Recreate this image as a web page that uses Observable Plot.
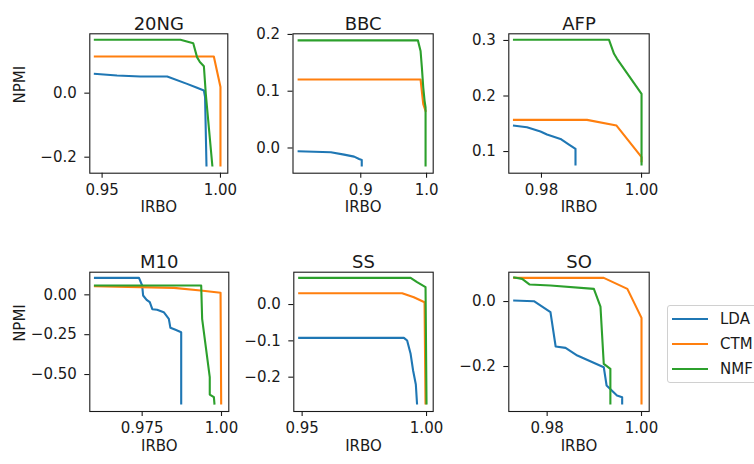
<!DOCTYPE html>
<html>
<head>
<meta charset="utf-8">
<script src="https://cdn.jsdelivr.net/npm/d3@7"></script>
<script src="https://cdn.jsdelivr.net/npm/@observablehq/plot@0.6"></script>
<style>
  html, body { margin: 0; padding: 0; background: white; overflow: hidden; }
  #chart { position: relative; width: 754px; height: 464px; font-family: "DejaVu Sans", sans-serif; }
  #chart svg.panel { position: absolute; left: 0; top: 0; }
  .legend { position: absolute; left: 667px; top: 305px; width: 95px; height: 78px;
            border: 1px solid #d0d0d0; border-radius: 3px; background: white; box-sizing: border-box; }
  .legend .item { position: absolute; left: 4px; height: 20px; display: flex; align-items: center;
                  font-size: 15px; color: #1a1a1a; }
  .legend .item span { margin-left: 12px; }
</style>
</head>
<body>
<div id="chart"></div>
<script>
// Topic models compared on each corpus
const models = ["LDA", "CTM", "NMF"];
const modelColors = ["#1f77b4", "#ff7f0e", "#2ca02c"];

// [IRBO, NPMI] trade-off curves per corpus and model
const ng20LDA = [[0.9465,0.0604],[0.9563,0.055],[0.9662,0.052],[0.9775,0.052],[0.9859,0.029],[0.9901,0.0167],[0.9930,0.0083],[0.9935,-0.0125],[0.9941,-0.229]];
const ng20CTM = [[0.9465,0.1146],[0.9972,0.1146],[1.0,0.019],[1.0,-0.229]];
const ng20NMF = [[0.9465,0.1667],[0.9831,0.1667],[0.9885,0.156],[0.9901,0.1125],[0.9913,0.097],[0.9930,0.084],[0.9938,-0.002],[0.9966,-0.229]];

const bbcLDA = [[0.804,-0.0058],[0.8545,-0.0076],[0.8747,-0.0117],[0.8899,-0.0152],[0.8975,-0.0193],[0.9015,-0.021],[0.9015,-0.0327]];
const bbcCTM = [[0.804,0.1205],[0.9909,0.1205],[0.995,0.0772],[0.999,0.0637]];
const bbcNMF = [[0.804,0.1895],[0.9869,0.1895],[0.9909,0.1708],[0.9929,0.1415],[0.995,0.1064],[0.997,0.083],[0.9985,0.0713],[0.9985,-0.0327]];

const afpLDA = [[0.9743,0.1468],[0.9771,0.1438],[0.9798,0.136],[0.9811,0.1306],[0.9838,0.1228],[0.9855,0.1126],[0.9868,0.1048],[0.9868,0.0748]];
const afpCTM = [[0.9743,0.157],[0.9891,0.157],[0.995,0.1468],[1.0,0.0898],[1.0,0.0808]];
const afpNMF = [[0.9743,0.3012],[0.9935,0.3012],[0.9945,0.276],[0.9951,0.267],[1.0,0.2039],[1.0,0.0748]];

const m10LDA = [[0.9598,0.1067],[0.9740,0.1067],[0.975,0.0586],[0.9753,-0.0042],[0.9764,-0.0314],[0.9774,-0.046],[0.9782,-0.09],[0.9797,-0.0941],[0.9818,-0.1088],[0.9834,-0.1506],[0.9839,-0.2071],[0.9855,-0.2197],[0.9873,-0.2343],[0.9873,-0.6883]];
const m10CTM = [[0.9598,0.0544],[0.9850,0.0439],[0.9934,0.0272],[0.9997,0.0126],[0.9999,-0.6883]];
const m10NMF = [[0.9598,0.0586],[0.9936,0.0586],[0.9939,-0.1506],[0.9963,-0.5167],[0.9963,-0.6255],[0.9976,-0.6423],[0.9978,-0.6883]];

const ssLDA = [[0.9484,-0.0917],[0.9909,-0.0917],[0.9922,-0.0991],[0.9936,-0.1358],[0.9946,-0.1817],[0.9957,-0.2202],[0.9962,-0.2752]];
const ssCTM = [[0.9484,0.0312],[0.9902,0.0312],[0.9949,0.0202],[0.9992,0.0064],[0.9996,-0.2752]];
const ssNMF = [[0.9484,0.0734],[0.9936,0.0734],[0.9962,0.0615],[0.9996,0.0477],[1.0,-0.2752]];

const soLDA = [[0.9728,0.0031],[0.9772,0.001],[0.9807,-0.0328],[0.9818,-0.1385],[0.9839,-0.1426],[0.9864,-0.1662],[0.9920,-0.2021],[0.9926,-0.2585],[0.9948,-0.2892],[0.9959,-0.2944],[0.9959,-0.3169]];
const soCTM = [[0.9728,0.0728],[0.9920,0.0728],[0.9970,0.039],[1.0,-0.0503],[1.0,-0.3169]];
const soNMF = [[0.9728,0.0749],[0.9747,0.0697],[0.9763,0.0523],[0.9807,0.0492],[0.9899,0.039],[0.9913,-0.0154],[0.9920,-0.1918],[0.9934,-0.2072],[0.9934,-0.3169]];

// Axis limits and tick labels per corpus
const corpora = ["20NG", "BBC", "AFP", "M10", "SS", "SO"];
const xDomains = [[0.9448,1.0031],[0.797,1.0101],[0.97347,1.00153],[0.9585,1.0023],[0.94665,1.00268],[0.97187,1.00163]];
const yDomains = [[-0.25,0.1854],[-0.0444,0.2011],[0.061,0.312],[-0.732,0.142],[-0.2945,0.089],[-0.3385,0.0903]];
const xTickValues = [[0.95,1.0],[0.9,1.0],[0.98,1.0],[0.975,1.0],[0.95,1.0],[0.98,1.0]];
const xTickLabels = [["0.95","1.00"],["0.9","1.0"],["0.98","1.00"],["0.975","1.00"],["0.95","1.00"],["0.98","1.00"]];
const yTickValues = [[0,-0.2],[0,0.1,0.2],[0.1,0.2,0.3],[0,-0.25,-0.5],[0,-0.1,-0.2],[0,-0.2]];
const yTickLabels = [["0.0","−0.2"],["0.0","0.1","0.2"],["0.1","0.2","0.3"],["0.00","−0.25","−0.50"],["0.0","−0.1","−0.2"],["0.0","−0.2"]];
const curves = [
  [ng20LDA, ng20CTM, ng20NMF], [bbcLDA, bbcCTM, bbcNMF], [afpLDA, afpCTM, afpNMF],
  [m10LDA, m10CTM, m10NMF], [ssLDA, ssCTM, ssNMF], [soLDA, soCTM, soNMF]
];

// Grid layout: frame edges of each subplot in the page
const W = 754, H = 464;
const colEdges = [[89.3, 227.3], [292.5, 432.7], [508.3, 648.7]];
const rowEdges = [[33.3, 172.7], [271.7, 411]];
const bottomColEdges = [[89.3, 228.3], [293.3, 432.7], [508.3, 648.7]];
const ink = "#1a1a1a";

const chart = document.getElementById("chart");

corpora.forEach((name, k) => {
  const row = Math.floor(k / 3), col = k % 3;
  const [left, right] = (row === 0 ? colEdges : bottomColEdges)[col];
  const [top, bottom] = rowEdges[row];
  const rows = curves[k].flatMap((pts, m) => pts.map(([irbo, npmi]) => ({model: models[m], irbo, npmi})));
  const xLab = new Map(xTickValues[k].map((v, i) => [v, xTickLabels[k][i]]));
  const yLab = new Map(yTickValues[k].map((v, i) => [v, yTickLabels[k][i]]));
  const marks = [
    Plot.line(rows, {x: "irbo", y: "npmi", z: "model", stroke: "model", strokeWidth: 2.1,
                     strokeLinejoin: "round", strokeLinecap: "butt"}),
    Plot.frame({stroke: ink, strokeWidth: 1.1}),
    Plot.axisX(xTickValues[k], {anchor: "bottom", tickSize: 5, tickPadding: 6, fontSize: 15,
                                 tickFormat: d => xLab.get(d), label: null, stroke: ink, strokeWidth: 1.1, fill: ink}),
    Plot.axisY(yTickValues[k], {anchor: "left", tickSize: 5, tickPadding: 8, fontSize: 15,
                                 tickFormat: d => yLab.get(d), label: null, stroke: ink, strokeWidth: 1.1, fill: ink}),
    Plot.text([name], {frameAnchor: "top", dy: -16.5, fontSize: 18, fill: ink}),
    Plot.text(["IRBO"], {frameAnchor: "bottom", dy: 39, fontSize: 15, fill: ink})
  ];
  if (col === 0) {
    marks.push(Plot.text(["NPMI"], {frameAnchor: "left", dx: 20 - left, rotate: -90, fontSize: 15, fill: ink}));
  }
  const svg = Plot.plot({
    width: W, height: H,
    marginLeft: left, marginRight: W - right, marginTop: top, marginBottom: H - bottom,
    style: {background: "transparent", fontFamily: "DejaVu Sans", color: ink, overflow: "visible"},
    x: {domain: xDomains[k]},
    y: {domain: yDomains[k]},
    color: {domain: models, range: modelColors},
    marks
  });
  svg.classList.add("panel");
  chart.appendChild(svg);
});

// Legend beside the last row
const legend = document.createElement("div");
legend.className = "legend";
models.forEach((m, i) => {
  const item = document.createElement("div");
  item.className = "item";
  item.style.top = (3 + i * 25) + "px";
  item.innerHTML = `<svg width="36" height="4"><line x1="0" x2="36" y1="2" y2="2" stroke="${modelColors[i]}" stroke-width="2.1"/></svg><span>${m}</span>`;
  legend.appendChild(item);
});
chart.appendChild(legend);
</script>
</body>
</html>
